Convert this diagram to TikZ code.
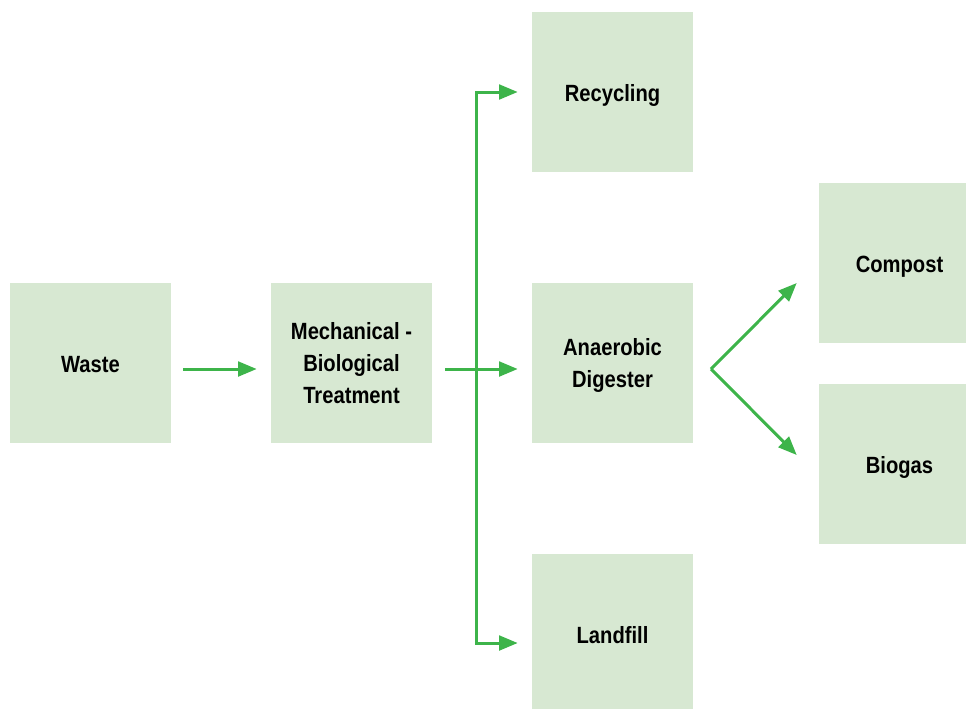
\documentclass[tikz,border=0pt]{standalone}
\usepackage{fontspec}
\setmainfont[FakeStretch=0.86]{Liberation Sans}
\usepackage{tikz}
\usetikzlibrary{arrows.meta}

\definecolor{boxgreen}{HTML}{D7E8D2}
\definecolor{arrowgreen}{HTML}{3DB44A}

\begin{document}
\begin{tikzpicture}[x=0.75pt,y=-0.75pt,
  stage/.style={rectangle,fill=boxgreen,minimum width=120.75pt,minimum height=120pt,
    align=center,font=\fontsize{17.6}{24}\selectfont\bfseries,
    execute at begin node={\rule{0pt}{18.8pt}},
    execute at end node={\rule[-4pt]{0pt}{0pt}}},
  multistage/.style={stage,execute at begin node={},execute at end node={},text depth=-5pt},
  flow/.style={draw=arrowgreen,line width=2.25pt,-{Triangle[length=14pt,width=11pt]}}]
  \useasboundingbox (0,0) rectangle (966,708);
  \clip (0,0) rectangle (966,708);

  \node[stage] (waste) at (90.5,363) {Waste};
  \node[multistage] (mbt) at (351.5,363) {Mechanical -\\Biological\\Treatment};
  \node[stage] (recycling) at (612.5,92) {Recycling};
  \node[multistage] (digester) at (612.5,363) {Anaerobic\\Digester};
  \node[stage] (landfill) at (612.5,634) {Landfill};
  \node[stage] (compost) at (899.5,263) {Compost};
  \node[stage] (biogas) at (899.5,464) {Biogas};

  \coordinate (split) at (476,369);
  \coordinate (fork) at (711,369);

  \draw[flow,shorten <=9pt,shorten >=10.5pt] ([yshift=-4.5pt]waste.east) -- ([yshift=-4.5pt]mbt.west);
  \draw[flow,shorten <=9.75pt,shorten >=10.5pt] ([yshift=-4.5pt]mbt.east) -- ([yshift=-4.5pt]digester.west);
  \draw[flow,shorten >=10.5pt] (split) |- (recycling.west);
  \draw[flow,shorten >=10.5pt] (split) |- ([yshift=-6.75pt]landfill.west);
  \draw[flow] (fork) -- ([xshift=-16.5pt,yshift=-15pt]compost.west);
  \draw[flow] (fork) -- ([xshift=-16.5pt,yshift=6.75pt]biogas.west);
\end{tikzpicture}
\end{document}
